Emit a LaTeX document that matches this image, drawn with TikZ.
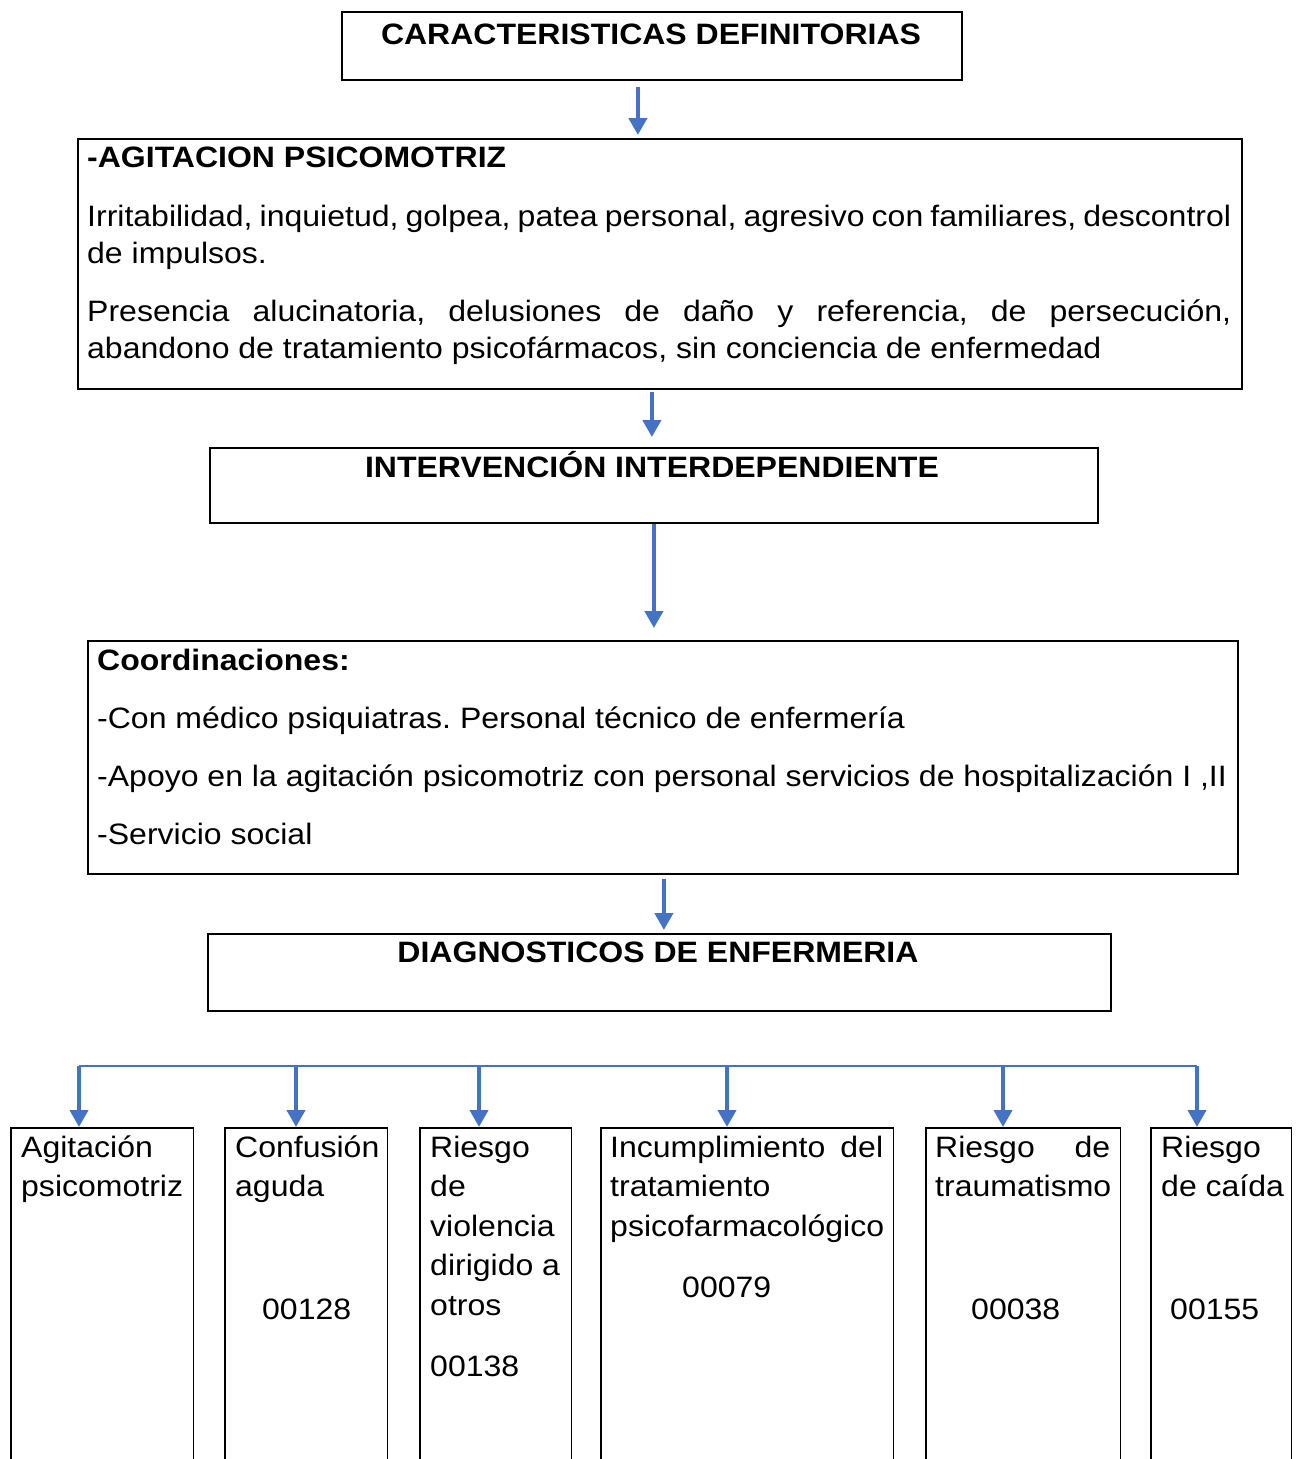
\documentclass[tikz,border=0pt]{standalone}
\usepackage{fontspec}
\setmainfont{Liberation Sans}[FakeStretch=1.085]
\usetikzlibrary{arrows.meta}
\definecolor{arrblue}{HTML}{4472C4}
\newcommand{\txtlines}[2]{\parbox[t]{#1}{#2}}
\frenchspacing
\begin{document}
\begin{tikzpicture}[x=1pt,y=-1pt,
  font=\fontsize{29.5}{37.5}\selectfont,
  box/.style={draw=black, line width=1.8pt, inner sep=0pt, anchor=north west},
  openbox/.style={draw=none, inner sep=0pt, anchor=north west},
  boxline/.style={draw=black, line width=1.8pt},
  ttl/.style={anchor=base, inner sep=0pt, font=\fontsize{29.5}{37.5}\selectfont\bfseries},
  txt/.style={anchor=base west, inner sep=0pt},
  dtxt/.style={anchor=base west, inner sep=0pt, font=\fontsize{29.5}{39.5}\selectfont},
  arr/.style={draw=arrblue, line width=4pt, -{Triangle[width=18pt,length=17pt]}},
  bus/.style={draw=arrblue, line width=2pt}]
\useasboundingbox (0,0) rectangle (1301,1459);

% boxes
\node[box, minimum width=620pt, minimum height=68pt] (b1) at (341,11) {};
\node[box, minimum width=1164pt, minimum height=250pt] (b2) at (77,138) {};
\node[box, minimum width=888pt, minimum height=75pt] (b3) at (209,447) {};
\node[box, minimum width=1150pt, minimum height=233pt] (b4) at (87,640) {};
\node[box, minimum width=903pt, minimum height=77pt] (b5) at (207,933) {};

% texts
\node[ttl] (t1) at (651,44) {CARACTERISTICAS DEFINITORIAS};
\node[txt, font=\fontsize{29.5}{37.5}\selectfont\bfseries] (t2) at (87,167) {-AGITACION PSICOMOTRIZ};
\node[txt] (p1) at (87,226) {\txtlines{1150pt}{\makebox[1144pt][s]{Irritabilidad, inquietud, golpea, patea personal, agresivo con familiares, descontrol}\\de impulsos.}};
\node[txt] (p2) at (87,321) {\txtlines{1150pt}{\makebox[1144pt][s]{Presencia alucinatoria, delusiones de daño y referencia, de persecución,}\\abandono de tratamiento psicofármacos, sin conciencia de enfermedad}};
\node[ttl] (t3) at (652,477) {INTERVENCIÓN INTERDEPENDIENTE};
\node[txt, font=\fontsize{29.5}{37.5}\selectfont\bfseries] (t4) at (97,670) {Coordinaciones:};
\node[txt] (c1) at (97,728) {-Con médico psiquiatras. Personal técnico de enfermería};
\node[txt] (c2) at (97,786) {-Apoyo en la agitación psicomotriz con personal servicios de hospitalización I ,II};
\node[txt] (c3) at (97,844) {-Servicio social};
\node[ttl] (t5) at (658,962) {DIAGNOSTICOS DE ENFERMERIA};

% arrows between main boxes
\draw[arr] ([xshift=-14pt,yshift=-6pt]b1.south) -- ([xshift=-14pt,yshift=3pt]b1.south |- b2.north);
\draw[arr] ([xshift=-8pt,yshift=-2pt]b2.south) -- ([xshift=-8pt,yshift=10pt]b2.south |- b3.north);
\draw[arr] (b3.south) -- ([yshift=12pt]b3.south |- b4.north);
\draw[arr] ([xshift=1pt,yshift=-4pt]b4.south) -- ([xshift=1pt,yshift=3pt]b4.south |- b5.north);

% bottom boxes
\node[openbox, minimum width=182pt, minimum height=331pt] (d1) at (11,1128) {};
\node[openbox, minimum width=162pt, minimum height=331pt] (d2) at (225,1128) {};
\node[openbox, minimum width=151pt, minimum height=331pt] (d3) at (420,1128) {};
\node[openbox, minimum width=292pt, minimum height=331pt] (d4) at (601,1128) {};
\node[openbox, minimum width=194pt, minimum height=331pt] (d5) at (926,1128) {};
\node[openbox, minimum width=140pt, minimum height=331pt] (d6) at (1151,1128) {};
\foreach \d in {d1,d2,d3,d4,d5,d6}
  \draw[boxline] (\d.south west) -- (\d.north west) -- (\d.north east) -- (\d.south east);

% bus
\coordinate (k1) at (79,1066);
\coordinate (k2) at (296,1066);
\coordinate (k3) at (479,1066);
\coordinate (k4) at (727,1066);
\coordinate (k5) at (1003,1066);
\coordinate (k6) at (1197,1066);
\draw[bus] (k1) -- (k6);
\draw[arr] (k1) -- ([yshift=1pt]k1 |- d1.north);
\draw[arr] (k2) -- ([yshift=1pt]k2 |- d2.north);
\draw[arr] (k3) -- ([yshift=1pt]k3 |- d3.north);
\draw[arr] (k4) -- ([yshift=1pt]k4 |- d4.north);
\draw[arr] (k5) -- ([yshift=1pt]k5 |- d5.north);
\draw[arr] (k6) -- ([yshift=1pt]k6 |- d6.north);

% bottom texts
\node[dtxt] (e1) at (21,1157) {\txtlines{170pt}{Agitación\\psicomotriz}};
\node[dtxt] (e2) at (235,1157) {\txtlines{150pt}{Confusión\\aguda}};
\node[dtxt] (n2) at (262,1319) {00128};
\node[dtxt] (e3) at (430,1157) {\txtlines{140pt}{Riesgo\\de\\violencia\\dirigido a\\otros}};
\node[dtxt] (n3) at (430,1376) {00138};
\node[dtxt] (e4) at (610,1157) {\txtlines{285pt}{\makebox[273pt][s]{Incumplimiento del}\\tratamiento\\psicofarmacológico}};
\node[dtxt] (n4) at (682,1297) {00079};
\node[dtxt] (e5) at (935,1157) {\txtlines{185pt}{\makebox[175pt][s]{Riesgo de}\\traumatismo}};
\node[dtxt] (n5) at (971,1319) {00038};
\node[dtxt] (e6) at (1161,1157) {\txtlines{130pt}{Riesgo\\de caída}};
\node[dtxt] (n6) at (1170,1319) {00155};
\end{tikzpicture}
\end{document}
